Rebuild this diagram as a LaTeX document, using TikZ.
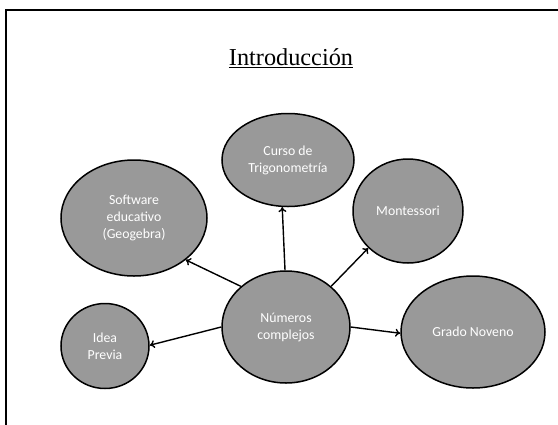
\documentclass[tikz,border=0pt]{standalone}
\usepackage{fontspec}
\setmainfont{Liberation Serif}
\newfontfamily\bubblefont{Carlito}
\usetikzlibrary{shapes.geometric,arrows.meta}
\begin{document}
\begin{tikzpicture}[x=1pt,y=-1pt,
  bubble/.style={ellipse,draw=black,line width=1.5pt,fill=black!40,
    inner sep=0pt,text=white,align=center,
    font=\bubblefont\fontsize{13.8}{17}\selectfont},
  link/.style={line width=1.4pt,-{To[length=5pt,width=8pt]}}]
\useasboundingbox (0,0) rectangle (558,424);
\draw[line width=2.2pt] (6,440) -- (6,10) -- (570,10);
\node[font=\fontsize{24.3}{28}\selectfont] (title) at (291,58) {\underline{Introducción}};
\node[bubble,minimum width=132pt,minimum height=93pt] (curso) at (288,160) {Curso de\\Trigonometría};
\node[bubble,minimum width=146pt,minimum height=116pt] (soft) at (134,218) {Software\\educativo\\(Geogebra)};
\node[bubble,minimum width=110pt,minimum height=104pt] (mont) at (408,211) {Montessori};
\node[bubble,minimum width=128pt,minimum height=112pt] (num) at (286,327) {Números\\complejos};
\node[bubble,minimum width=88pt,minimum height=85pt] (idea) at (105,346) {Idea\\Previa};
\node[bubble,minimum width=144pt,minimum height=112pt] (grado) at (473,332) {Grado Noveno};
\draw[link] (num.91) -- (curso.263);
\draw[link] (num.138) -- (soft.-39);
\draw[link] (num.42) -- (mont.223);
\draw[link] (num.180) -- (idea.1);
\draw[link] (num.0) -- (grado.181);
\end{tikzpicture}
\end{document}
